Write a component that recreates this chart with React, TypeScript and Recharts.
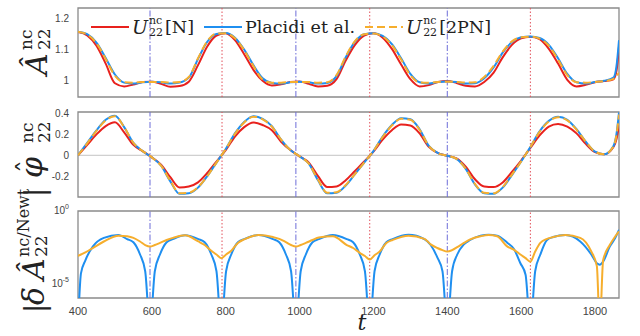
import React from "react";
import {
  LineChart,
  Line,
  XAxis,
  YAxis,
  ReferenceLine,
  ReferenceArea,
  Legend,
} from "recharts";

// time samples for the amplitude and phase panels
const tMain = [
  400, 425, 450, 475, 500, 525, 550, 575, 600, 625,
  650, 675, 700, 725, 750, 775, 800, 825, 850, 875,
  900, 925, 950, 975, 1000, 1025, 1050, 1075, 1100, 1125,
  1150, 1175, 1200, 1225, 1250, 1275, 1300, 1325, 1350, 1375,
  1400, 1425, 1450, 1475, 1500, 1525, 1550, 1575, 1600, 1625,
  1650, 1675, 1700, 1725, 1750, 1775, 1800, 1825, 1850, 1858,
  1865,
];

// amplitude  A22 (nc)
const ampN = [
  1.156, 1.145, 1.112, 1.055, 0.992, 0.982, 0.988, 0.996, 0.997, 0.99,
  0.981, 0.983, 0.997, 1.05, 1.11, 1.145, 1.152, 1.13, 1.085, 1.035,
  1.0, 0.985, 0.989, 0.996, 0.998, 0.99, 0.982, 0.984, 1.005, 1.065,
  1.115, 1.145, 1.152, 1.138, 1.102, 1.052, 1.005, 0.982, 0.986, 0.996,
  0.999, 0.993, 0.984, 0.982, 0.996, 1.025, 1.075, 1.115, 1.136, 1.141,
  1.133, 1.102, 1.055, 1.003, 0.982, 0.987, 0.995, 0.999, 1.005, 1.03,
  1.11,
];
const ampPlacidi = [
  1.157, 1.149, 1.122, 1.073, 1.02, 0.994, 0.991, 0.995, 0.997, 0.995,
  0.991, 0.994, 1.01, 1.07, 1.125, 1.15, 1.153, 1.138, 1.1, 1.05,
  1.008, 0.993, 0.991, 0.995, 0.997, 0.995, 0.991, 0.993, 1.015, 1.075,
  1.125, 1.149, 1.152, 1.144, 1.117, 1.072, 1.022, 0.995, 0.991, 0.996,
  0.998, 0.996, 0.991, 0.992, 1.008, 1.042, 1.09, 1.124, 1.139, 1.142,
  1.137, 1.115, 1.072, 1.022, 0.995, 0.991, 0.996, 1.0, 1.01, 1.045,
  1.13,
];
const amp2PN = [
  1.157, 1.148, 1.12, 1.07, 1.016, 0.995, 0.994, 0.996, 0.996, 0.996,
  0.994, 0.996, 1.012, 1.072, 1.127, 1.151, 1.152, 1.136, 1.098, 1.047,
  1.004, 0.994, 0.994, 0.996, 0.996, 0.996, 0.994, 0.995, 1.018, 1.078,
  1.127, 1.149, 1.151, 1.142, 1.114, 1.068, 1.018, 0.995, 0.994, 0.996,
  0.997, 0.996, 0.994, 0.995, 1.012, 1.047, 1.093, 1.126, 1.139, 1.141,
  1.135, 1.112, 1.068, 1.018, 0.995, 0.994, 0.996, 0.999, 1.006, 1.015,
  1.025,
];

// phase  phi22 (nc)
const phaseN = [
  0.0, 0.1, 0.2, 0.28, 0.316, 0.22, 0.1, 0.04, -0.02, -0.09,
  -0.21, -0.31, -0.3, -0.26, -0.17, -0.06, 0.05, 0.18, 0.27, 0.315,
  0.29, 0.24, 0.13, 0.05, -0.01, -0.07, -0.2, -0.305, -0.3, -0.24,
  -0.15, -0.06, 0.035, 0.15, 0.24, 0.295, 0.285, 0.21, 0.08, 0.02,
  -0.005, -0.03, -0.11, -0.23, -0.3, -0.305, -0.26, -0.16, -0.05, 0.07,
  0.19, 0.275, 0.3, 0.275, 0.21, 0.11, 0.03, 0.01, 0.08, 0.15,
  0.29,
];
const phasePlacidi = [
  0.0, 0.12, 0.24, 0.34, 0.38, 0.27, 0.12, 0.04, -0.02, -0.1,
  -0.25, -0.37, -0.365, -0.31, -0.2, -0.07, 0.06, 0.21, 0.32, 0.375,
  0.35, 0.28, 0.15, 0.05, -0.01, -0.08, -0.24, -0.365, -0.36, -0.29,
  -0.18, -0.07, 0.04, 0.18, 0.29, 0.355, 0.345, 0.25, 0.09, 0.02,
  -0.005, -0.035, -0.13, -0.28, -0.365, -0.37, -0.31, -0.19, -0.06, 0.08,
  0.23, 0.33, 0.37, 0.34, 0.25, 0.13, 0.035, 0.01, 0.09, 0.2,
  0.41,
];
const phase2PN = [
  0.0, 0.115, 0.235, 0.335, 0.375, 0.27, 0.12, 0.04, -0.02, -0.1,
  -0.245, -0.365, -0.36, -0.305, -0.2, -0.07, 0.06, 0.205, 0.315, 0.37,
  0.345, 0.275, 0.15, 0.05, -0.01, -0.08, -0.235, -0.36, -0.355, -0.285,
  -0.18, -0.07, 0.04, 0.175, 0.285, 0.35, 0.34, 0.245, 0.09, 0.02,
  -0.005, -0.035, -0.13, -0.275, -0.36, -0.365, -0.305, -0.185, -0.06, 0.08,
  0.225, 0.325, 0.365, 0.335, 0.245, 0.13, 0.035, 0.01, 0.085, 0.19,
  0.39,
];

// relative amplitude error vs Newtonian (log panel), denser near the zeros
const tErr = [
  400, 408, 420, 440, 470, 510, 533, 550, 568, 582,
  595,
  608, 622, 640, 657, 690, 726, 743, 761, 775,
  788,
  801, 815, 833, 850, 889, 928, 945, 963, 977,
  990,
  1003, 1017, 1035, 1052, 1090, 1128, 1145, 1163, 1177,
  1190,
  1203, 1217, 1235, 1252, 1295, 1338, 1355, 1373, 1387,
  1400,
  1413, 1427, 1445, 1462, 1490, 1512, 1535, 1563, 1580, 1598, 1612,
  1625,
  1638, 1652, 1670, 1687, 1720, 1760, 1790, 1805,
  1813, 1822, 1840, 1855, 1865,
];
const errPlacidi = [
  1e-8, 5e-5, 4e-4, 3.5e-3, 1.4e-2, 2.2e-2, 1.15e-2, 7e-3, 1e-3, 7e-5,
  1e-8,
  7e-5, 1e-3, 7e-3, 1.15e-2, 2.1e-2, 1.15e-2, 7e-3, 1e-3, 7e-5,
  1e-8,
  7e-5, 1e-3, 7e-3, 1.15e-2, 2.2e-2, 1.15e-2, 7e-3, 1e-3, 7e-5,
  1e-8,
  7e-5, 1e-3, 7e-3, 1.15e-2, 2.2e-2, 1.15e-2, 7e-3, 1e-3, 7e-5,
  1e-8,
  7e-5, 1e-3, 7e-3, 1.15e-2, 2.3e-2, 1.15e-2, 4.5e-3, 6.3e-4, 7e-5,
  1e-8,
  7e-5, 1e-3, 5e-3, 1e-2, 2e-2, 2.3e-2, 2e-2, 6.3e-3, 2.5e-3, 2.5e-4, 4e-5,
  1e-8,
  7e-5, 1e-3, 1e-2, 1.6e-2, 2.2e-2, 7.9e-3, 1e-3, 2.5e-4,
  2e-4, 3.2e-4, 3.5e-3, 1.4e-2, 5e-2,
];
const err2PN = [
  7.9e-4, 1e-3, 1.4e-3, 2.8e-3, 7.9e-3, 2e-2, 1.8e-2, 1.4e-2, 7.9e-3, 4.5e-3,
  3.5e-3,
  4.5e-3, 6.3e-3, 1e-2, 1.4e-2, 2.1e-2, 7.9e-3, 4.5e-3, 1.8e-3, 1e-3,
  5.6e-4,
  1e-3, 1.8e-3, 6.3e-3, 1.1e-2, 2.2e-2, 1.6e-2, 1.2e-2, 7.1e-3, 4.5e-3,
  3.5e-3,
  4.5e-3, 6.3e-3, 1e-2, 1.5e-2, 1.8e-2, 4.5e-3, 2.8e-3, 1.3e-3, 7.9e-4,
  4.5e-4,
  8.9e-4, 1.6e-3, 6.3e-3, 1e-2, 2e-2, 1.2e-2, 5e-3, 2.8e-3, 2e-3,
  1.6e-3,
  2e-3, 3.2e-3, 6.3e-3, 1.1e-2, 1.8e-2, 2.2e-2, 1.8e-2, 3.5e-3, 2.2e-3, 1e-3, 5.6e-4,
  3.2e-4,
  1.6e-3, 6.3e-3, 1.2e-2, 1.6e-2, 2.2e-2, 1.4e-2, 1.6e-3, 1.6e-4,
  1e-8, 4e-4, 4.5e-3, 1.8e-2, 4e-2,
];

// periastron (red dotted) and apastron (blue dash-dot) times
const periT = [790, 1190, 1625];
const apoT = [595, 990, 1400];

const xTicks = [400, 600, 800, 1000, 1200, 1400, 1600, 1800];
const ampTicks = [1, 1.1, 1.2];
const phaseTicks = [-0.4, -0.2, 0, 0.2, 0.4];
const errTicks = [1e-5, 1];

const X_DOMAIN: [number, number] = [400, 1865];

const RED = "#e8211d";
const BLUE = "#1f8ff0";
const ORANGE = "#f6ae2d";
const FRAME = "#8a8a8a";
const SANS = '"Liberation Sans", Arial, sans-serif';
const SERIF = '"DejaVu Serif", serif';

const mainData = tMain.map((t, i) => ({
  t,
  aN: ampN[i],
  aP: ampPlacidi[i],
  a2: amp2PN[i],
  pN: phaseN[i],
  pP: phasePlacidi[i],
  p2: phase2PN[i],
}));

const errData = tErr.map((t, i) => ({ t, eP: errPlacidi[i], e2: err2PN[i] }));

const tickStyle = { fill: "#444", fontSize: 10, fontFamily: SANS };

const markerLines = () => [
  ...apoT.map((t) => (
    <ReferenceLine key={"a" + t} x={t} stroke="#6d6dd8" strokeWidth={1} strokeDasharray="6 2 1.5 2" />
  )),
  ...periT.map((t) => (
    <ReferenceLine key={"p" + t} x={t} stroke="#e2505a" strokeWidth={1} strokeDasharray="1.5 2" />
  )),
];

// U^{nc}_{22}[...]
function ULabel({ tag }: { tag: string }) {
  return (
    <span style={{ display: "inline-flex", alignItems: "center" }}>
      <span style={{ fontStyle: "italic", fontSize: 19 }}>U</span>
      <span
        style={{
          display: "inline-flex",
          flexDirection: "column",
          fontSize: 11,
          lineHeight: "12px",
          margin: "0 2px 0 1px",
        }}
      >
        <span>nc</span>
        <span>22</span>
      </span>
      <span>[{tag}]</span>
    </span>
  );
}

const legendItems = [
  { color: RED, dash: "", label: <ULabel tag="N" /> },
  { color: BLUE, dash: "", label: <span>Placidi et al.</span> },
  { color: ORANGE, dash: "8 4", label: <ULabel tag="2PN" /> },
];

const LegendBox = () => (
  <div
    style={{
      display: "flex",
      alignItems: "center",
      fontFamily: SERIF,
      fontSize: 17.5,
      color: "#222",
      whiteSpace: "nowrap",
    }}
  >
    {legendItems.map((it, i) => (
      <span key={i} style={{ display: "inline-flex", alignItems: "center", marginRight: 10 }}>
        <svg width={38} height={10} style={{ marginRight: 3 }}>
          <line x1={0} x2={38} y1={5} y2={5} stroke={it.color} strokeWidth={2} strokeDasharray={it.dash} />
        </svg>
        {it.label}
      </span>
    ))}
  </div>
);

const PowTick = ({ x, y, payload }: any) => {
  const e = Math.round(Math.log10(payload.value));
  return (
    <text x={x} y={y + 3} textAnchor="end" fill="#444" fontSize={10} fontFamily={SANS}>
      10
      <tspan dy={-5} fontSize={7}>
        {e}
      </tspan>
    </text>
  );
};

const margin = (top: number, bottom: number) => ({ top, bottom, left: 0, right: 21 });

export default function App() {
  return (
    <div style={{ position: "absolute", left: 0, top: 0, width: 640, height: 336, background: "#fff" }}>
      {/* amplitude */}
      <div style={{ position: "absolute", left: 0, top: 0 }}>
        <LineChart width={640} height={100} data={mainData} margin={margin(8, 3)}>
          <XAxis dataKey="t" type="number" domain={X_DOMAIN} allowDataOverflow hide />
          <YAxis
            domain={[0.948, 1.233]}
            allowDataOverflow
            ticks={ampTicks}
            width={78}
            axisLine={false}
            tickLine={false}
            tick={tickStyle}
            tickMargin={3}
          />
          <ReferenceArea x1={400} x2={1865} y1={0.948} y2={1.233} fill="none" stroke={FRAME} strokeWidth={1.3} />
          {markerLines()}
          <Line dataKey="aN" type="monotone" stroke={RED} strokeWidth={2} dot={false} isAnimationActive={false} />
          <Line dataKey="aP" type="monotone" stroke={BLUE} strokeWidth={2} dot={false} isAnimationActive={false} />
          <Line
            dataKey="a2"
            type="monotone"
            stroke={ORANGE}
            strokeWidth={2}
            strokeDasharray="8 4"
            dot={false}
            isAnimationActive={false}
          />
          <Legend
            layout="vertical"
            align="center"
            verticalAlign="middle"
            content={<LegendBox />}
            wrapperStyle={{ left: 91, top: 15, width: "auto" }}
          />
        </LineChart>
      </div>

      {/* phase */}
      <div style={{ position: "absolute", left: 0, top: 100 }}>
        <LineChart width={640} height={100} data={mainData} margin={margin(12, 3)}>
          <XAxis dataKey="t" type="number" domain={X_DOMAIN} allowDataOverflow hide />
          <YAxis
            domain={[-0.4, 0.415]}
            allowDataOverflow
            ticks={phaseTicks}
            width={78}
            axisLine={false}
            tickLine={false}
            tick={tickStyle}
            tickMargin={3}
          />
          <ReferenceArea x1={400} x2={1865} y1={-0.4} y2={0.415} fill="none" stroke={FRAME} strokeWidth={1.3} />
          <ReferenceLine y={0} stroke="#c4c4c4" strokeWidth={1} />
          {markerLines()}
          <Line dataKey="pN" type="monotone" stroke={RED} strokeWidth={2} dot={false} isAnimationActive={false} />
          <Line dataKey="pP" type="monotone" stroke={BLUE} strokeWidth={2} dot={false} isAnimationActive={false} />
          <Line
            dataKey="p2"
            type="monotone"
            stroke={ORANGE}
            strokeWidth={2}
            strokeDasharray="8 4"
            dot={false}
            isAnimationActive={false}
          />
        </LineChart>
      </div>

      {/* relative error, log scale */}
      <div style={{ position: "absolute", left: 0, top: 200 }}>
        <LineChart width={640} height={136} data={errData} margin={margin(11, 18)}>
          <XAxis
            dataKey="t"
            type="number"
            domain={X_DOMAIN}
            allowDataOverflow
            ticks={xTicks}
            axisLine={false}
            tickLine={false}
            tick={{ fill: "#444", fontSize: 11, fontFamily: SANS }}
            tickMargin={3}
            height={20}
          />
          <YAxis
            scale="log"
            domain={[1e-6, 1]}
            allowDataOverflow
            ticks={errTicks}
            width={78}
            axisLine={false}
            tickLine={false}
            tick={<PowTick />}
            tickMargin={3}
          />
          <ReferenceArea x1={400} x2={1865} y1={1e-6} y2={1} fill="none" stroke={FRAME} strokeWidth={1.3} />
          {markerLines()}
          <Line dataKey="eP" type="monotone" stroke={BLUE} strokeWidth={2} dot={false} isAnimationActive={false} />
          <Line dataKey="e2" type="monotone" stroke={ORANGE} strokeWidth={2} dot={false} isAnimationActive={false} />
        </LineChart>
      </div>

      {/* axis titles */}
      <svg
        width={640}
        height={336}
        style={{ position: "absolute", left: 0, top: 0, pointerEvents: "none" }}
        fontFamily={SERIF}
        fill="#222"
      >
        <g transform="translate(47,75) rotate(-90)">
          <text x={0} y={0} fontSize={30} fontStyle="italic">Â</text>
          <text x={25} y={-15} fontSize={17}>nc</text>
          <text x={25} y={3} fontSize={17}>22</text>
        </g>
        <g transform="translate(42,178) rotate(-90)">
          <text x={0} y={0} fontSize={30} fontStyle="italic">φ</text>
          <text x={5} y={-6} fontSize={26}>ˆ</text>
          <text x={35} y={-9} fontSize={17}>nc</text>
          <text x={35} y={8} fontSize={17}>22</text>
        </g>
        <g transform="translate(44,313) rotate(-90)">
          <text x={0} y={0} fontSize={28}>|</text>
          <text x={8} y={0} fontSize={30} fontStyle="italic">δ</text>
          <text x={33} y={0} fontSize={30} fontStyle="italic">Â</text>
          <text x={56} y={-15} fontSize={16}>nc/Newt</text>
          <text x={56} y={3} fontSize={17}>22</text>
          <text x={116} y={0} fontSize={28}>|</text>
        </g>
        <text x={362} y={330} fontSize={22} fontStyle="italic" textAnchor="middle">t</text>
      </svg>
    </div>
  );
}
